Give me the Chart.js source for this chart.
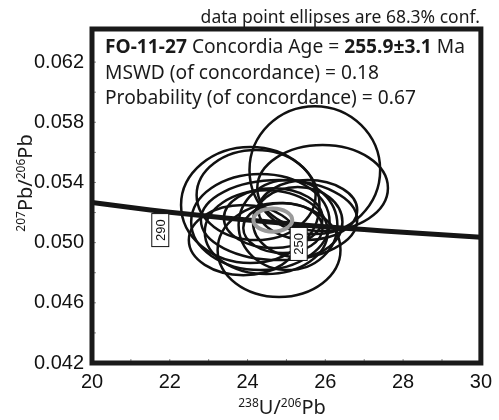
<!DOCTYPE html>
<html>
<head>
<meta charset="utf-8">
<script src="https://cdn.jsdelivr.net/npm/chart.js@4/dist/chart.umd.min.js"></script>
<style>
  html, body { margin: 0; padding: 0; background: #fff; }
  #wrap { width: 499px; height: 420px; }
</style>
</head>
<body>
<div id="wrap"><canvas id="myChart" width="499" height="420"></canvas></div>
<script>
// concordia curve (238U/206Pb vs 207Pb/206Pb)
const concX = [20, 21, 22, 23, 24, 25, 26, 27, 28, 29, 30];
const concY = [0.05267, 0.05233, 0.05202, 0.05175, 0.05151, 0.05127, 0.05106, 0.05087, 0.05069, 0.05052, 0.05036];

// age markers on the curve (Ma)
const ageLabels = ["290", "250"];
const ageX = [21.73, 25.29];
const ageY = [0.05213, 0.05121];

// data point ellipses: centre and half-widths
const ellX  = [25.73, 25.93, 24.07, 24.81, 24.81, 24.33, 24.48, 25.04, 24.66, 25.29, 23.89, 25.55, 24.22, 24.91];
const ellY  = [0.05482, 0.05363, 0.05250, 0.04951, 0.05150, 0.05137, 0.05070, 0.05117, 0.05163, 0.05137, 0.05017, 0.05217, 0.05316, 0.05097];
const ellSx = [1.68, 1.68, 1.78, 1.58, 2.01, 1.78, 1.58, 1.27, 1.27, 1.15, 1.40, 1.27, 1.53, 1.02];
const ellSy = [0.00425, 0.00286, 0.00385, 0.00312, 0.00266, 0.00319, 0.00279, 0.00299, 0.00199, 0.00233, 0.00233, 0.00199, 0.00299, 0.00166];

// concordia age ellipse
const ageEll = { x: 24.65, y: 0.0515, sx: 0.50, sy: 0.00077 };

const xTicks = [20, 22, 24, 26, 28, 30];
const yTicks = [0.042, 0.046, 0.050, 0.054, 0.058, 0.062];

const textFam = "'Noto Sans', 'Open Sans', sans-serif";

function drawEll(ctx, xs, ys, e, color, lw) {
  const cx = xs.getPixelForValue(e.x);
  const cy = ys.getPixelForValue(e.y);
  const rx = Math.abs(xs.getPixelForValue(e.x + e.sx) - cx);
  const ry = Math.abs(ys.getPixelForValue(e.y + e.sy) - cy);
  ctx.beginPath();
  ctx.ellipse(cx, cy, rx, ry, 0, 0, Math.PI * 2);
  ctx.strokeStyle = color;
  ctx.lineWidth = lw;
  ctx.stroke();
}

const concordiaPlugin = {
  id: "concordia",
  beforeDatasetsDraw(chart) {
    const { ctx, chartArea: a, scales } = chart;
    ctx.save();
    ctx.beginPath();
    ctx.rect(a.left, a.top, a.right - a.left, a.bottom - a.top);
    ctx.clip();
    for (let i = 0; i < ellX.length; i++) {
      drawEll(ctx, scales.x, scales.y, { x: ellX[i], y: ellY[i], sx: ellSx[i], sy: ellSy[i] }, "#111", 2.5);
    }
    ctx.restore();
  },
  afterDatasetsDraw(chart) {
    const { ctx, chartArea: a, scales } = chart;
    ctx.save();
    drawEll(ctx, scales.x, scales.y, ageEll, "#9a9a9a", 4);

    // age labels in boxes
    ctx.font = "13px 'Liberation Sans', Arial, sans-serif";
    ageLabels.forEach((t, i) => {
      const px = scales.x.getPixelForValue(ageX[i]);
      const py = scales.y.getPixelForValue(ageY[i]);
      const w = 17, h = 33;
      ctx.fillStyle = "#fff";
      ctx.fillRect(px - w / 2 + 1, py + 3, w, h);
      ctx.strokeStyle = "#111";
      ctx.lineWidth = 1;
      ctx.strokeRect(px - w / 2 + 1, py + 3, w, h);
      ctx.save();
      ctx.translate(px + 1, py + 3 + h / 2);
      ctx.rotate(-Math.PI / 2);
      ctx.fillStyle = "#111";
      ctx.textAlign = "center";
      ctx.textBaseline = "middle";
      ctx.fillText(t, 0, 1);
      ctx.restore();
    });

    // minor ticks inside the frame
    ctx.strokeStyle = "#888";
    ctx.lineWidth = 1;
    for (let v = 21; v < 30; v++) {
      const px = scales.x.getPixelForValue(v);
      ctx.beginPath();
      ctx.moveTo(px, a.bottom);
      ctx.lineTo(px, a.bottom - 4);
      ctx.stroke();
    }
    for (let k = 44; k <= 62; k += 2) {
      const py = scales.y.getPixelForValue(k / 1000);
      ctx.beginPath();
      ctx.moveTo(a.left, py);
      ctx.lineTo(a.left + 4, py);
      ctx.stroke();
    }

    // frame
    ctx.strokeStyle = "#1a1a1a";
    ctx.lineWidth = 5;
    ctx.strokeRect(a.left, a.top, a.right - a.left, a.bottom - a.top);

    // text inside the frame
    ctx.fillStyle = "#1a1a1a";
    ctx.textAlign = "left";
    ctx.textBaseline = "alphabetic";
    let x = a.left + 13;
    const parts = [["FO-11-27", true], [" Concordia Age = ", false], ["255.9\u00b13.1", true], [" Ma", false]];
    parts.forEach(([s, b]) => {
      ctx.font = (b ? "bold " : "") + "19.2px " + textFam;
      ctx.fillText(s, x, 53);
      x += ctx.measureText(s).width;
    });
    ctx.font = "19.2px " + textFam;
    ctx.fillText("MSWD (of concordance) = 0.18", a.left + 13, 79);
    ctx.fillText("Probability (of concordance) = 0.67", a.left + 13, 104);

    // note above the frame
    ctx.font = "17.5px " + textFam;
    ctx.textAlign = "right";
    ctx.fillText("data point ellipses are 68.3% conf.", a.right - 1, 23);

    // axis titles with superscripts
    const big = "20px " + textFam, small = "12px " + textFam;
    const xt = [["238", small, -7], ["U/", big, 0], ["206", small, -7], ["Pb", big, 0]];
    let tw = 0;
    xt.forEach(([s, f]) => { ctx.font = f; tw += ctx.measureText(s).width; });
    let sx = 282 - tw / 2;
    ctx.textAlign = "left";
    xt.forEach(([s, f, dy]) => {
      ctx.font = f;
      ctx.fillText(s, sx, 414 + dy);
      sx += ctx.measureText(s).width;
    });
    ctx.save();
    ctx.translate(32, 183);
    ctx.rotate(-Math.PI / 2);
    const yt = [["207", small, -7], ["Pb/", big, 0], ["206", small, -7], ["Pb", big, 0]];
    tw = 0;
    yt.forEach(([s, f]) => { ctx.font = f; tw += ctx.measureText(s).width; });
    sx = -tw / 2;
    yt.forEach(([s, f, dy]) => {
      ctx.font = f;
      ctx.fillText(s, sx, dy);
      sx += ctx.measureText(s).width;
    });
    ctx.restore();
    ctx.restore();
  }
};

const ctx = document.querySelector("#myChart").getContext("2d");

new Chart(ctx, {
  type: "scatter",
  data: {
    datasets: [
      {
        label: "Concordia",
        data: concX.map((x, i) => ({ x: x, y: concY[i] })),
        showLine: true,
        borderColor: "#151515",
        borderWidth: 5,
        pointRadius: 0,
        tension: 0.3,
        clip: 0,
      },
    ],
  },
  options: {
    responsive: false,
    animation: false,
    layout: { padding: { top: 29, right: 14, left: 0, bottom: 0 } },
    plugins: { legend: { display: false }, tooltip: { enabled: false } },
    scales: {
      x: {
        type: "linear",
        min: 20,
        max: 30,
        afterBuildTicks: (s) => { s.ticks = xTicks.map((v) => ({ value: v })); },
        afterFit: (s) => { s.height = 57; },
        grid: { display: false, drawTicks: false },
        border: { display: false },
        ticks: { color: "#111", font: { family: "'Liberation Sans', Arial, sans-serif", size: 20 }, padding: 7, maxRotation: 0 },
      },
      y: {
        type: "linear",
        min: 0.042,
        max: 0.0642,
        afterBuildTicks: (s) => { s.ticks = yTicks.map((v) => ({ value: v })); },
        afterFit: (s) => { s.width = 92; },
        grid: { display: false, drawTicks: false },
        border: { display: false },
        ticks: {
          color: "#111",
          font: { family: "'Liberation Sans', Arial, sans-serif", size: 20 },
          padding: 8,
          callback: (v) => v.toFixed(3),
        },
      },
    },
  },
  plugins: [concordiaPlugin],
});
</script>
</body>
</html>
